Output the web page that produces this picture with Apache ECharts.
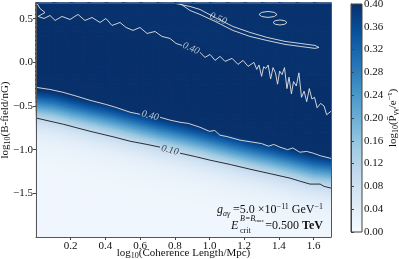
<!DOCTYPE html>
<html><head><meta charset="utf-8">
<script src="https://cdn.jsdelivr.net/npm/echarts@6/dist/echarts.min.js"></script>
<style>html,body{margin:0;padding:0;background:#fff}#c{width:399px;height:259px}</style>
</head><body><div id="c"></div>
<script>
// ---- data ----
const xCenters = [0.05,0.15,0.25,0.35,0.45,0.55,0.65,0.75,0.85,0.95,1.05,1.15,1.25,1.35,1.45,1.55,1.65];
const yCenters = [-1.975,-1.925,-1.875,-1.825,-1.775,-1.725,-1.675,-1.625,-1.575,-1.525,-1.475,-1.425,-1.375,-1.325,-1.275,-1.225,-1.175,-1.125,-1.075,-1.025,-0.975,-0.925,-0.875,-0.825,-0.775,-0.725,-0.675,-0.625,-0.575,-0.525,-0.475,-0.425,-0.375,-0.325,-0.275,-0.225,-0.175,-0.125,-0.075,-0.025,0.025,0.075,0.125,0.175,0.225,0.275,0.325,0.375,0.425,0.475,0.525,0.575,0.625,0.675];
// log10(P/e^-tau), rows bottom (y=-1.975) to top (y=0.675)
const prob = [
[.015,.015,.015,.015,.015,.015,.015,.015,.015,.015,.015,.015,.015,.015,.015,.015,.016],
[.015,.015,.015,.015,.015,.015,.015,.015,.015,.015,.015,.015,.015,.015,.015,.016,.018],
[.015,.015,.015,.015,.015,.015,.015,.015,.015,.015,.015,.015,.015,.015,.016,.018,.019],
[.015,.015,.015,.015,.015,.015,.015,.015,.015,.015,.015,.015,.015,.016,.018,.019,.021],
[.015,.015,.015,.015,.015,.015,.015,.015,.015,.015,.015,.015,.017,.018,.019,.021,.024],
[.015,.015,.015,.015,.015,.015,.015,.015,.015,.015,.015,.017,.018,.019,.021,.024,.027],
[.015,.015,.015,.015,.015,.015,.015,.015,.015,.015,.017,.018,.019,.021,.024,.027,.031],
[.015,.015,.015,.015,.015,.015,.015,.015,.015,.017,.018,.019,.021,.024,.027,.031,.039],
[.015,.015,.015,.015,.015,.015,.015,.016,.017,.018,.019,.021,.025,.027,.031,.039,.048],
[.015,.015,.015,.015,.015,.015,.016,.017,.018,.019,.021,.025,.028,.031,.039,.048,.063],
[.015,.015,.015,.015,.015,.016,.017,.018,.019,.021,.025,.028,.033,.039,.048,.063,.080],
[.015,.015,.015,.015,.016,.017,.018,.019,.021,.025,.028,.033,.040,.048,.063,.080,.105],
[.015,.015,.015,.016,.017,.018,.019,.022,.025,.028,.033,.040,.051,.063,.080,.105,.137],
[.015,.015,.016,.017,.018,.019,.022,.025,.028,.033,.040,.051,.066,.080,.105,.137,.179],
[.015,.016,.017,.018,.019,.022,.025,.029,.033,.040,.051,.066,.085,.105,.137,.179,.229],
[.016,.017,.018,.019,.022,.025,.029,.034,.040,.051,.066,.085,.111,.137,.179,.229,.279],
[.017,.018,.020,.022,.025,.029,.034,.042,.051,.066,.085,.111,.145,.179,.229,.279,.327],
[.018,.020,.023,.025,.029,.034,.042,.054,.066,.085,.111,.145,.189,.229,.279,.327,.367],
[.020,.023,.026,.029,.034,.042,.054,.069,.085,.111,.145,.189,.239,.279,.327,.367,.405],
[.023,.026,.029,.034,.042,.054,.069,.090,.111,.145,.189,.239,.289,.327,.367,.405,.435],
[.026,.029,.036,.042,.054,.069,.090,.117,.145,.189,.239,.289,.335,.367,.405,.435,.460],
[.029,.036,.043,.054,.069,.090,.117,.153,.189,.239,.289,.335,.375,.405,.435,.460,.460],
[.036,.043,.057,.069,.090,.117,.153,.199,.239,.289,.335,.375,.411,.435,.460,.460,.460],
[.043,.057,.072,.090,.117,.153,.199,.249,.289,.335,.375,.411,.441,.460,.460,.460,.460],
[.057,.072,.095,.117,.153,.199,.249,.299,.335,.375,.411,.441,.460,.460,.460,.460,.460],
[.072,.095,.123,.153,.199,.249,.299,.343,.375,.411,.441,.460,.460,.460,.460,.460,.460],
[.095,.123,.161,.199,.249,.299,.343,.383,.411,.441,.460,.460,.460,.460,.460,.460,.460],
[.123,.161,.209,.249,.299,.343,.383,.417,.441,.460,.460,.460,.460,.460,.460,.460,.460],
[.161,.209,.259,.299,.343,.383,.417,.447,.460,.460,.460,.460,.460,.460,.460,.460,.460],
[.209,.259,.309,.343,.383,.417,.447,.460,.460,.460,.460,.460,.460,.460,.460,.460,.460],
[.259,.309,.351,.383,.417,.447,.460,.460,.460,.460,.460,.460,.460,.460,.460,.460,.460],
[.309,.351,.391,.417,.447,.460,.460,.460,.460,.460,.460,.460,.460,.460,.460,.460,.460],
[.351,.391,.423,.447,.460,.460,.460,.460,.460,.460,.460,.460,.460,.460,.460,.460,.460],
[.391,.423,.453,.460,.460,.460,.460,.460,.460,.460,.460,.460,.460,.460,.460,.460,.460],
[.423,.453,.460,.460,.460,.460,.460,.460,.460,.460,.460,.460,.460,.460,.460,.460,.460],
[.453,.460,.460,.460,.460,.460,.460,.460,.460,.460,.460,.460,.460,.460,.460,.460,.460],
[.460,.460,.460,.460,.460,.460,.460,.460,.460,.460,.460,.460,.460,.460,.396,.396,.396],
[.460,.460,.460,.460,.460,.460,.460,.460,.460,.460,.460,.460,.460,.460,.396,.396,.396],
[.460,.460,.460,.460,.460,.460,.460,.460,.460,.460,.460,.460,.460,.396,.396,.396,.396],
[.460,.460,.460,.460,.460,.460,.460,.460,.460,.460,.460,.460,.396,.396,.396,.396,.396],
[.460,.460,.460,.460,.460,.460,.460,.460,.460,.460,.460,.396,.396,.396,.396,.396,.396],
[.460,.460,.460,.460,.460,.460,.460,.460,.460,.460,.396,.396,.396,.396,.396,.396,.396],
[.460,.460,.460,.460,.460,.460,.460,.460,.460,.396,.396,.396,.396,.396,.396,.396,.396],
[.460,.460,.460,.460,.460,.460,.460,.460,.460,.396,.396,.396,.396,.396,.396,.396,.396],
[.460,.460,.460,.460,.460,.460,.460,.460,.396,.396,.396,.396,.396,.396,.396,.396,.396],
[.460,.460,.460,.460,.460,.460,.460,.396,.396,.396,.396,.396,.396,.396,.396,.396,.396],
[.460,.460,.460,.460,.460,.460,.396,.396,.396,.396,.396,.396,.396,.396,.396,.396,.396],
[.460,.460,.460,.460,.460,.396,.396,.396,.396,.396,.396,.396,.396,.396,.396,.396,.396],
[.460,.460,.460,.460,.396,.396,.396,.396,.396,.396,.396,.396,.396,.396,.396,.396,.396],
[.460,.460,.460,.396,.396,.396,.396,.396,.396,.396,.396,.396,.396,.396,.396,.396,.396],
[.460,.396,.396,.396,.396,.396,.396,.396,.396,.396,.396,.396,.396,.396,.396,.396,.396],
[.396,.396,.396,.396,.396,.396,.396,.396,.396,.396,.396,.396,.396,.396,.396,.396,.396],
[.396,.396,.396,.396,.396,.396,.396,.396,.396,.396,.396,.396,.396,.396,.396,.396,.396],
[.396,.396,.396,.396,.396,.396,.396,.396,.396,.396,.396,.396,.396,.396,.396,.396,.396]
];
// contour lines (data units)
const contour010 = [
 [[0,-0.637],[0.16,-0.71],[0.311,-0.789],[0.45,-0.855],[0.542,-0.903],[0.64,-0.94],[0.715,-0.971]],
 [[0.83,-1.04],[0.92,-1.08],[1.003,-1.12],[1.12,-1.17],[1.233,-1.223],[1.35,-1.275],[1.464,-1.326],[1.52,-1.36],[1.579,-1.394],[1.637,-1.394],[1.66,-1.42],[1.7,-1.44]]
];
const contour040low = [
 [[0,-0.286],[0.08,-0.31],[0.156,-0.343],[0.23,-0.385],[0.311,-0.434],[0.40,-0.48],[0.46,-0.515],[0.542,-0.571],[0.60,-0.595]],
 [[0.715,-0.629],[0.77,-0.66],[0.83,-0.686],[0.88,-0.70],[0.945,-0.743],[1.0,-0.79],[1.03,-0.78],[1.06,-0.834],[1.10,-0.85],[1.176,-0.891],[1.25,-0.914],[1.30,-0.93],[1.34,-0.96],[1.37,-0.94],[1.406,-0.971],[1.45,-1.0],[1.48,-0.98],[1.52,-1.029],[1.56,-1.02],[1.597,-1.04],[1.64,-1.07],[1.70,-1.10]]
];
const contour040up = [
 [[0.006,0.674],[0.023,0.617],[0.052,0.571],[0.012,0.526],[0.046,0.503],[0.081,0.537],[0.110,0.480],[0.150,0.526],[0.196,0.491],[0.242,0.549],[0.282,0.480],[0.323,0.514],[0.369,0.457],[0.403,0.503],[0.438,0.423],[0.484,0.457],[0.519,0.400],[0.559,0.366],[0.599,0.400],[0.640,0.331],[0.686,0.354],[0.726,0.297],[0.772,0.274],[0.807,0.217],[0.841,0.194]],
 [[0.945,0.114],[0.974,0.057],[1.003,0.091],[1.032,0.023],[1.061,0.069],[1.089,0.011],[1.130,0.046],[1.164,-0.023],[1.193,0.023],[1.222,-0.046],[1.256,0.0],[1.272,-0.08],[1.285,-0.03],[1.300,-0.16],[1.312,-0.05],[1.325,-0.07],[1.338,-0.03],[1.352,-0.19],[1.366,-0.06],[1.380,-0.12],[1.392,-0.25],[1.404,-0.10],[1.418,-0.14],[1.432,-0.06],[1.446,-0.30],[1.458,-0.17],[1.472,-0.36],[1.484,-0.22],[1.500,-0.27],[1.515,-0.12],[1.530,-0.40],[1.545,-0.33],[1.560,-0.45],[1.575,-0.30],[1.590,-0.42],[1.605,-0.40],[1.620,-0.52],[1.640,-0.47],[1.660,-0.50],[1.675,-0.60],[1.700,-0.56]]
];
const contour050 = [
 [[0.807,0.674],[0.888,0.640],[0.945,0.606],[1.032,0.514],[1.135,0.411],[1.233,0.343],[1.331,0.286],[1.435,0.240],[1.522,0.217],[1.608,0.194],[1.631,0.171],[1.608,0.160],[1.522,0.183],[1.435,0.206],[1.331,0.251],[1.233,0.297],[1.135,0.366],[1.032,0.469],[0.945,0.549],[0.888,0.594],[0.830,0.674]],
 [[1.389,0.549],[1.373,0.573],[1.337,0.583],[1.301,0.573],[1.285,0.549],[1.301,0.525],[1.337,0.515],[1.373,0.525],[1.389,0.549]],
 [[1.446,0.457],[1.434,0.477],[1.406,0.486],[1.378,0.477],[1.366,0.457],[1.378,0.437],[1.406,0.428],[1.434,0.437],[1.446,0.457]]
];
const contourLabels = [
 {text:'0.10', pos:[0.772,-1.006], rot:-14, dark:true},
 {text:'0.40', pos:[0.657,-0.612], rot:-14, dark:false},
 {text:'0.40', pos:[0.893,0.160], rot:-24, dark:false},
 {text:'0.50', pos:[1.05,0.50], rot:-22, dark:false}
];
const xRange = [0, 1.7], yRange = [-2.0, 0.68], cbRange = [0, 0.40];
const blues = ['#f7fbff','#deebf7','#c6dbef','#9ecae1','#6baed6','#4292c6','#2171b5','#08519c','#08306b'];

// ---- build ----
const serif = "'Liberation Serif','DejaVu Serif',serif";
const nR = prob.length, nC = xCenters.length;
const cellW = xCenters[1]-xCenters[0], cellH = yCenters[1]-yCenters[0];
const cells = [];
prob.forEach((row, r) => row.forEach((v, c) => cells.push([xCenters[c], yCenters[r], v, r, c])));
function colorOf(v){ const t = Math.max(0, Math.min(1, (v-cbRange[0])/(cbRange[1]-cbRange[0]))); return echarts.color.lerp(t, blues); }
// value at a cell corner = mean of the cells touching it (gouraud-style shading of the mesh)
function cornerVal(i, j){
  let s = 0, n = 0;
  for (const r of [i-1, i]) for (const c of [j-1, j]) if (r>=0 && r<nR && c>=0 && c<nC){ s += prob[r][c]; n++; }
  return s/n;
}
function shadedTri(P, F, clipRect){
  const e1x=P[1][0]-P[0][0], e1y=P[1][1]-P[0][1], e2x=P[2][0]-P[0][0], e2y=P[2][1]-P[0][1];
  const d1=F[1]-F[0], d2=F[2]-F[0], det=e1x*e2y-e1y*e2x;
  const fmin=Math.min(...F), fmax=Math.max(...F);
  let fill;
  if (fmax-fmin < 1e-4 || Math.abs(det) < 1e-9) fill = colorOf((fmin+fmax)/2);
  else {
    const a=(d1*e2y-d2*e1y)/det, b=(e1x*d2-e2x*d1)/det, g2=a*a+b*b;
    const S=P[F.indexOf(fmin)], k=(fmax-fmin)/g2;
    const stops=[0,0.25,0.5,0.75,1].map(t=>({offset:t, color:colorOf(fmin+t*(fmax-fmin))}));
    fill = new echarts.graphic.LinearGradient(S[0], S[1], S[0]+a*k, S[1]+b*k, stops, true);
  }
  return {type:'polygon', shape:{points:echarts.graphic.clipPointsByRect(P, clipRect)}, style:{fill:fill, stroke:fill, lineWidth:1.3, lineJoin:'round'}};
}
function renderCell(params, api){
  const x = api.value(0), y = api.value(1), r = api.value(3), c = api.value(4);
  const cs = params.coordSys, clip = {x:cs.x, y:cs.y, width:cs.width, height:cs.height};
  const TL = api.coord([x-cellW/2, y+cellH/2]), TR = api.coord([x+cellW/2, y+cellH/2]);
  const BL = api.coord([x-cellW/2, y-cellH/2]), BR = api.coord([x+cellW/2, y-cellH/2]);
  const fTL = cornerVal(r+1, c), fTR = cornerVal(r+1, c+1), fBL = cornerVal(r, c), fBR = cornerVal(r, c+1);
  return {type:'group', children:[
    shadedTri([TL, TR, BR], [fTL, fTR, fBR], clip),
    shadedTri([TL, BR, BL], [fTL, fBR, fBL], clip)
  ]};
}
function renderBar(params, api){
  const p0 = api.coord([0, cbRange[1]]), p1 = api.coord([1, cbRange[0]]);
  const stops = blues.map((c,i)=>({offset:1-i/(blues.length-1), color:c})).reverse();
  return {type:'rect', shape:{x:p0[0], y:p0[1], width:p1[0]-p0[0], height:p1[1]-p0[1]},
    style:{fill:new echarts.graphic.LinearGradient(0,0,0,1,stops), stroke:'#444', lineWidth:1}};
}
const richBase = {
  n:{fontFamily:serif, fontSize:11, color:'#111', lineHeight:14},
  s:{fontFamily:serif, fontSize:8, color:'#111', lineHeight:8, verticalAlign:'bottom'},
  p:{fontFamily:serif, fontSize:8, color:'#111', lineHeight:8, verticalAlign:'top'}
};
const lineSeries = (arr, color) => ({type:'lines', coordinateSystem:'cartesian2d', xAxisIndex:0, yAxisIndex:0, polyline:true, silent:true, z:3,
  lineStyle:{color:color, width:0.9, opacity:1}, data: arr.map(c=>({coords:c}))});

const chart = echarts.init(document.getElementById('c'), null, {renderer:'canvas'});
chart.setOption({
  animation:false,
  grid:[{left:36, right:68, top:3, bottom:22, outerBoundsMode:'none', containLabel:false},
        {left:351, width:11, top:4, bottom:27, outerBoundsMode:'none', containLabel:false}],
  xAxis:[
    {type:'value', gridIndex:0, min:xRange[0], max:xRange[1], interval:0.2, position:'bottom', z:5,
     axisLine:{show:true, onZero:false, lineStyle:{color:'#555', width:1}},
     axisTick:{show:true, length:3, lineStyle:{color:'#444'}}, splitLine:{show:false},
     axisLabel:{fontFamily:serif, fontSize:11, color:'#111', margin:4, showMaxLabel:false, showMinLabel:false, formatter:v=> v===0?'':v.toFixed(1)},
     name:'{n|log}{s|10}{n|(Coherence Length/Mpc)}', nameLocation:'middle', nameGap:9, nameMoveOverlap:false, nameTextStyle:{rich:richBase}},
    {type:'value', gridIndex:0, min:xRange[0], max:xRange[1], position:'top', z:5,
     axisLine:{show:true, onZero:false, lineStyle:{color:'#555'}}, axisTick:{show:false}, axisLabel:{show:false}, splitLine:{show:false}},
    {type:'value', gridIndex:1, min:0, max:1, show:false}
  ],
  yAxis:[
    {type:'value', gridIndex:0, min:yRange[0], max:yRange[1], interval:0.5, position:'left', z:5,
     axisLine:{show:true, onZero:false, lineStyle:{color:'#555', width:1}},
     axisTick:{show:true, length:3, lineStyle:{color:'#444'}}, splitLine:{show:false},
     axisLabel:{fontFamily:serif, fontSize:11, color:'#111', margin:3, showMaxLabel:false, showMinLabel:false, formatter:v=> Math.abs(v+2)<1e-9?'':(v<0?'\u2212':'')+Math.abs(v).toFixed(1)},
     name:'{n|log}{s|10}{n|(B-field/nG)}', nameLocation:'middle', nameGap:24, nameRotate:90, nameMoveOverlap:false, nameTextStyle:{rich:richBase}},
    {type:'value', gridIndex:0, min:yRange[0], max:yRange[1], position:'right', z:5,
     axisLine:{show:true, onZero:false, lineStyle:{color:'#555'}}, axisTick:{show:false}, axisLabel:{show:false}, splitLine:{show:false}},
    {type:'value', gridIndex:1, min:cbRange[0], max:cbRange[1], interval:0.04, position:'right', z:5,
     axisLine:{show:true, lineStyle:{color:'#444'}}, axisTick:{show:true, length:3, lineStyle:{color:'#444'}}, splitLine:{show:false},
     axisLabel:{fontFamily:serif, fontSize:11, color:'#111', margin:2, formatter:v=>v.toFixed(2)},
     name:'{n|log}{s|10}{n|(P\u0304}{s|\u03b3\u03b3}{n|/e}{p|\u2212\u03c4}{n|)}', nameLocation:'middle', nameGap:24, nameRotate:90, nameMoveOverlap:false, nameTextStyle:{rich:richBase}}
  ],
  series:[
    {type:'custom', xAxisIndex:0, yAxisIndex:0, renderItem:renderCell, data:cells, z:1, silent:true},
    lineSeries(contour010, '#1a1a1a'),
    lineSeries(contour040low, '#e4e4e4'),
    lineSeries(contour040up, '#e4e4e4'),
    lineSeries(contour050, '#e4e4e4'),
    {type:'scatter', xAxisIndex:0, yAxisIndex:0, symbolSize:0, z:4, silent:true,
     data: contourLabels.map(l=>({value:l.pos, label:{show:true, position:'inside', formatter:l.text, rotate:l.rot,
       fontFamily:serif, fontStyle:'italic', fontSize:10, color:l.dark?'#1a1a1a':'#e8e8e8'}}))},
    {type:'custom', xAxisIndex:2, yAxisIndex:2, renderItem:renderBar, data:[[0]], z:1, silent:true}
  ],
  graphic:[
    {type:'text', x:323, y:210, z:10, style:{align:'right', verticalAlign:'middle',
      text:'{i|g}{s|a\u03b3}{n| =5.0 \u00d710}{p|\u221211}{n| GeV}{p|\u22121}',
      rich:{i:{fontFamily:serif, fontStyle:'italic', fontSize:12, fill:'#111', lineHeight:15}, n:{fontFamily:serif, fontSize:12, fill:'#111', lineHeight:15},
            s:{fontFamily:serif, fontStyle:'italic', fontSize:8, fill:'#111', lineHeight:8, verticalAlign:'bottom'},
            p:{fontFamily:serif, fontSize:8, fill:'#111', lineHeight:8, verticalAlign:'top'}}}},
    {type:'text', x:323, y:226, z:10, style:{align:'right', verticalAlign:'middle', text:'{n|=0.500 }{b|TeV}',
      rich:{n:{fontFamily:serif, fontSize:12, fill:'#111'}, b:{fontFamily:serif, fontSize:12, fontWeight:'bold', fill:'#111'}}}},
    {type:'text', x:231, y:226, z:10, style:{align:'left', verticalAlign:'middle', text:'E', font:'italic 12px '+serif, fill:'#111'}},
    {type:'text', x:240, y:231, z:10, style:{align:'left', verticalAlign:'middle', text:'crit', font:'8px '+serif, fill:'#111'}},
    {type:'text', x:240, y:219, z:10, style:{align:'left', verticalAlign:'middle', text:'{n|B=B}{s|max}',
      rich:{n:{fontFamily:serif, fontStyle:'italic', fontSize:8, fill:'#111', lineHeight:9}, s:{fontFamily:serif, fontSize:5, fill:'#111', lineHeight:5, verticalAlign:'bottom'}}}}
  ]
});
</script>
</body></html>
